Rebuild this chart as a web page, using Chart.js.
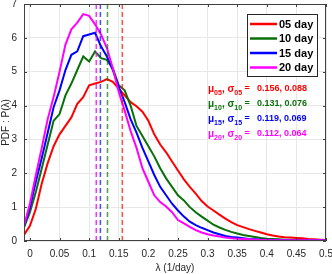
<!DOCTYPE html>
<html>
<head>
<meta charset="utf-8">
<script src="https://cdn.jsdelivr.net/npm/chart.js@4.4.1/dist/chart.umd.min.js"></script>
<style>
html,body{margin:0;padding:0;background:#fff;}
#wrap{width:332px;height:274px;position:relative;}
</style>
</head>
<body>
<div id="wrap"><canvas id="c"></canvas></div>
<script>
// lambda grid (1/day)
const LAMBDA = [-0.01,0,0.01,0.02,0.03,0.04,0.05,0.06,0.07,0.08,0.09,0.10,0.11,0.12,0.13,0.14,0.15,0.16,0.17,0.18,0.19,0.20,
  0.21,0.22,0.23,0.24,0.25,0.26,0.27,0.28,0.29,0.30,0.31,0.32,0.33,0.34,0.35,0.36,0.37,0.38,0.39,0.40,
  0.41,0.42,0.43,0.44,0.45,0.46,0.47,0.48,0.49,0.50];

const PDF_05 = [0.18,0.45,0.95,1.7,2.3,2.8,3.15,3.4,3.65,4.05,4.25,4.6,4.65,4.7,4.78,4.7,4.5,4.3,4.1,3.98,3.82,3.55,
  3.15,2.85,2.62,2.35,2.08,1.82,1.6,1.4,1.18,1.02,0.9,0.78,0.66,0.56,0.47,0.41,0.35,0.3,0.25,0.2,
  0.16,0.13,0.11,0.1,0.09,0.08,0.06,0.05,0.04,0.03];
const PDF_10 = [0.4,0.85,1.45,2.15,2.85,3.55,3.75,4.3,4.65,5.05,5.45,5.3,5.6,5.4,5.35,5.1,4.6,4.45,4.0,3.4,3.1,2.8,
  2.5,2.15,1.85,1.6,1.35,1.2,1.0,0.85,0.72,0.6,0.48,0.4,0.33,0.27,0.22,0.18,0.15,0.12,0.09,0.07,
  0.06,0.05,0.04,0.04,0.03,0.03,0.03,0.02,0.02,0.02];
const PDF_15 = [0.42,1.0,1.75,2.45,3.2,3.95,4.45,5.05,5.5,5.6,6.05,6.1,6.15,5.75,5.45,5.05,4.55,4.1,3.6,3.2,2.75,2.35,
  1.95,1.6,1.35,1.1,0.9,0.72,0.57,0.47,0.39,0.32,0.25,0.2,0.15,0.12,0.1,0.08,0.06,0.05,0.04,0.04,
  0.03,0.03,0.03,0.02,0.02,0.02,0.02,0.02,0.02,0.02];
const PDF_20 = [0.45,1.1,1.95,2.75,3.6,4.25,5.0,5.8,6.25,6.45,6.7,6.65,6.4,6.1,5.7,5.1,4.4,3.85,3.25,2.75,2.15,1.75,
  1.35,1.15,1.02,0.85,0.62,0.52,0.42,0.32,0.25,0.2,0.16,0.13,0.1,0.08,0.07,0.06,0.05,0.04,0.03,0.03,
  0.02,0.02,0.02,0.02,0.02,0.02,0.02,0.02,0.02,0.02];

const SERIES = ['05 day','10 day','15 day','20 day'];
const SUBS = ['05','10','15','20'];
const MEANS = [0.156,0.131,0.119,0.112];
const SIGMAS = [0.088,0.076,0.069,0.064];
const X_TICKS = [0,0.05,0.1,0.15,0.2,0.25,0.3,0.35,0.4,0.45,0.5];
const Y_TICKS = [0,1,2,3,4,5,6,7];

const COLORS = ['#ff0000','#0a700a','#0000ff','#ff00ff'];
const DASH_COLORS = ['rgba(255,0,0,0.7)','rgba(10,112,10,0.7)','rgba(0,0,255,0.7)','rgba(255,0,255,0.8)'];
const FONT = '"Liberation Sans", Arial, sans-serif';

const curves = [PDF_05,PDF_10,PDF_15,PDF_20].map((arr,i)=>({
  label:SERIES[i], data:arr.map((v,j)=>({x:LAMBDA[j],y:v})),
  borderColor:COLORS[i], borderWidth:2, pointRadius:0, tension:0, fill:false, order:4-i
}));
const meanLines = MEANS.map((m,i)=>({
  label:'mean '+SUBS[i], data:[{x:m,y:0},{x:m,y:7}],
  borderColor:DASH_COLORS[i], borderWidth:1.5, borderDash:[5,3], pointRadius:0, order:0
}));

const frame = {
  id:'frame',
  afterDraw(chart){
    const {ctx, chartArea:a, scales:{x,y}} = chart;
    ctx.save();
    ctx.strokeStyle='#404040'; ctx.lineWidth=1;
    ctx.strokeRect(a.left+0.5,a.top+0.5,a.right-a.left-1,a.bottom-a.top-1);
    ctx.beginPath();
    X_TICKS.forEach(v=>{const p=Math.round(x.getPixelForValue(v))+0.5;
      ctx.moveTo(p,a.bottom);ctx.lineTo(p,a.bottom-3);ctx.moveTo(p,a.top);ctx.lineTo(p,a.top+3);});
    Y_TICKS.forEach(v=>{const p=Math.round(y.getPixelForValue(v))+0.5;
      ctx.moveTo(a.left,p);ctx.lineTo(a.left+3,p);ctx.moveTo(a.right,p);ctx.lineTo(a.right-3,p);});
    ctx.stroke();

    // legend box
    const lx=a.right-79, ly=a.top+10, lw=70, lh=62;
    ctx.fillStyle='#fff'; ctx.fillRect(lx,ly,lw,lh);
    ctx.strokeStyle='#262626'; ctx.strokeRect(lx+0.5,ly+0.5,lw,lh);
    ctx.font='bold 11px '+FONT; ctx.textBaseline='middle'; ctx.textAlign='left';
    SERIES.forEach((s,i)=>{
      const yy=ly+10+i*14.5;
      ctx.strokeStyle=COLORS[i]; ctx.lineWidth=2.5;
      ctx.beginPath(); ctx.moveTo(lx+3,yy); ctx.lineTo(lx+30,yy); ctx.stroke();
      ctx.fillStyle='#000'; ctx.fillText(s,lx+32,yy+0.5);
    });

    // mean / sigma annotations
    SUBS.forEach((sub,i)=>{
      let tx=a.right-118; const ty=a.top+85+i*15;
      ctx.fillStyle=COLORS[i];
      const put=(t,f,dy)=>{ctx.font=f; ctx.fillText(t,tx,ty+dy); tx+=ctx.measureText(t).width;};
      put('μ','bold 10px '+FONT,0);
      put(sub,'bold 7px '+FONT,4);
      put(', σ','bold 10px '+FONT,0);
      put(sub,'bold 7px '+FONT,4);
      put(' = ','bold 9px '+FONT,0);
      tx=a.right-69;
      put(MEANS[i].toFixed(3)+', '+SIGMAS[i].toFixed(3),'bold 9px '+FONT,0);
    });
    ctx.restore();
  }
};

new Chart(document.getElementById('c'),{
  type:'line',
  data:{datasets:[...curves,...meanLines]},
  options:{
    responsive:true, maintainAspectRatio:false, animation:false,
    layout:{padding:{top:4,right:6,left:0,bottom:0}},
    plugins:{legend:{display:false},tooltip:{enabled:false}},
    scales:{
      x:{type:'linear',min:-0.01,max:0.5,
        afterBuildTicks:s=>{s.ticks=X_TICKS.map(v=>({value:v}));},
        afterFit:s=>{s.height=33;s.paddingLeft=0;s.paddingRight=0;},
        grid:{color:'#e8e8e8',drawTicks:false},border:{display:false},
        ticks:{padding:7,color:'#262626',font:{family:FONT,size:10},callback:v=>String(+v.toFixed(2))},
        title:{display:true,text:'λ (1/day)',color:'#262626',font:{family:FONT,size:10},padding:{top:2,bottom:0}}},
      y:{type:'linear',min:0,max:7,
        afterBuildTicks:s=>{s.ticks=Y_TICKS.map(v=>({value:v}));},
        afterFit:s=>{s.width=24;s.paddingTop=0;s.paddingBottom=0;},
        grid:{color:'#e8e8e8',drawTicks:false},border:{display:false},
        ticks:{padding:7,color:'#262626',font:{family:FONT,size:10}},
        title:{display:true,text:'PDF : P(λ)',color:'#262626',font:{family:FONT,size:10},padding:{top:0,bottom:0}}}
    }
  },
  plugins:[frame]
});
</script>
</body>
</html>
